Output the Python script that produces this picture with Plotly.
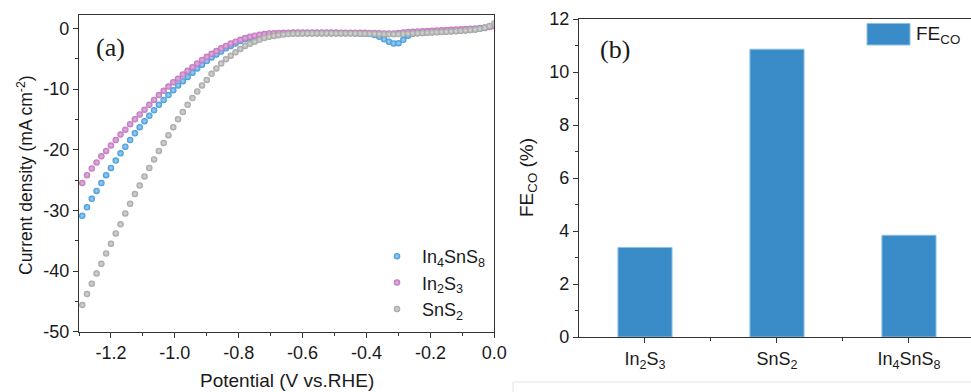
import plotly.graph_objects as go

# ---------------- data: panel (a) LSV ----------------
potential = [-1.29, -1.275, -1.26, -1.245, -1.23, -1.215, -1.2, -1.185, -1.17, -1.155,
             -1.14, -1.125, -1.11, -1.095, -1.08, -1.065, -1.05, -1.035, -1.02, -1.005,
             -0.99, -0.975, -0.96, -0.945, -0.93, -0.915, -0.9, -0.885, -0.87, -0.855,
             -0.84, -0.825, -0.81, -0.795, -0.78, -0.765, -0.75, -0.735, -0.72, -0.705,
             -0.69, -0.675, -0.66, -0.645, -0.63, -0.615, -0.6, -0.585, -0.57, -0.555,
             -0.54, -0.525, -0.51, -0.495, -0.48, -0.465, -0.45, -0.435, -0.42, -0.405,
             -0.39, -0.375, -0.36, -0.345, -0.33, -0.315, -0.3, -0.285, -0.27, -0.255,
             -0.24, -0.225, -0.21, -0.195, -0.18, -0.165, -0.15, -0.135, -0.12, -0.105,
             -0.09, -0.075, -0.06, -0.045, -0.03, -0.015, 0.0]

j_in4sns8 = [-30.9, -29.5, -28.1, -26.8, -25.5, -24.2, -23.0, -21.8, -20.6, -19.5,
             -18.4, -17.3, -16.3, -15.3, -14.4, -13.5, -12.6, -11.8, -11.0, -10.2,
             -9.4, -8.7, -8.0, -7.3, -6.6, -6.0, -5.4, -4.8, -4.3, -3.8,
             -3.3, -2.9, -2.5, -2.1, -1.8, -1.55, -1.35, -1.2, -1.05, -0.95,
             -0.9, -0.86, -0.84, -0.82, -0.81, -0.8, -0.8, -0.8, -0.8, -0.8,
             -0.8, -0.8, -0.8, -0.8, -0.8, -0.81, -0.82, -0.83, -0.85, -0.88,
             -0.95, -1.1, -1.4, -1.8, -2.2, -2.5, -2.45, -1.9, -1.2, -0.9,
             -0.8, -0.75, -0.7, -0.66, -0.62, -0.58, -0.54, -0.49, -0.44, -0.39,
             -0.33, -0.26, -0.18, -0.08, 0.06, 0.25, 0.5]

j_in2s3 = [-25.5, -24.2, -23.1, -22.1, -21.1, -20.2, -19.3, -18.4, -17.5, -16.7,
           -15.8, -15.0, -14.2, -13.4, -12.6, -11.8, -11.0, -10.3, -9.6, -8.9,
           -8.3, -7.6, -7.0, -6.4, -5.8, -5.2, -4.7, -4.2, -3.75, -3.3,
           -2.9, -2.5, -2.2, -1.9, -1.6, -1.4, -1.2, -1.05, -0.95, -0.85,
           -0.8, -0.76, -0.73, -0.71, -0.7, -0.7, -0.69, -0.69, -0.69, -0.69,
           -0.69, -0.7, -0.7, -0.7, -0.71, -0.71, -0.72, -0.72, -0.73, -0.74,
           -0.76, -0.78, -0.8, -0.83, -0.85, -0.84, -0.78, -0.68, -0.6, -0.55,
           -0.5, -0.46, -0.42, -0.38, -0.35, -0.31, -0.28, -0.24, -0.2, -0.16,
           -0.12, -0.07, -0.02, 0.04, 0.12, 0.22, 0.35]

j_sns2 = [-45.6, -43.8, -42.1, -40.4, -38.8, -37.1, -35.5, -33.8, -32.3, -30.5,
          -28.9, -27.3, -25.9, -24.4, -23.0, -21.6, -20.2, -18.9, -17.6, -16.3,
          -15.0, -13.8, -12.6, -11.5, -10.4, -9.4, -8.5, -7.5, -6.6, -5.8,
          -5.1, -4.5, -3.95, -3.4, -2.9, -2.55, -2.2, -1.9, -1.6, -1.4,
          -1.25, -1.12, -1.02, -0.95, -0.9, -0.87, -0.85, -0.84, -0.83, -0.83,
          -0.83, -0.83, -0.83, -0.84, -0.84, -0.85, -0.85, -0.86, -0.87, -0.88,
          -0.9, -0.92, -0.94, -0.96, -0.97, -0.97, -0.95, -0.92, -0.88, -0.84,
          -0.8, -0.76, -0.72, -0.68, -0.64, -0.6, -0.56, -0.51, -0.46, -0.41,
          -0.35, -0.28, -0.2, -0.08, 0.1, 0.38, 0.8]

series_names = ["In<sub>4</sub>SnS<sub>8</sub>", "In<sub>2</sub>S<sub>3</sub>", "SnS<sub>2</sub>"]

x_tickvals = [-1.2, -1.0, -0.8, -0.6, -0.4, -0.2, 0.0]
x_ticktext = ["-1.2", "-1.0", "-0.8", "-0.6", "-0.4", "-0.2", "0.0"]
y_tickvals = [0, -10, -20, -30, -40, -50]
y_ticktext = ["0", "-10", "-20", "-30", "-40", "-50"]

# ---------------- data: panel (b) FE_CO ----------------
catalysts = ["In<sub>2</sub>S<sub>3</sub>", "SnS<sub>2</sub>", "In<sub>4</sub>SnS<sub>8</sub>"]
fe_co = [3.38, 10.86, 3.84]

# ---------------- styling ----------------
FONT = "Liberation Sans, Arial, sans-serif"
SERIF = "Liberation Serif, Times New Roman, serif"
AX = "#333333"
TXT = "#1a1a1a"
W, H = 971, 392

colors = ["#3f98dc", "#c173be", "#a3a3a3"]
highlights = ["#a9d3f2", "#e2b8de", "#dadada"]
bar_color = "#3a8cc8"

fig = go.Figure()

for name, ys, c, hl in zip(series_names, [j_in4sns8, j_in2s3, j_sns2], colors, highlights):
    fig.add_trace(go.Scatter(
        x=potential, y=ys, mode="markers", name=name,
        marker=dict(size=6.5, color=c, line=dict(width=0),
                    gradient=dict(type="radial", color=hl)),
        xaxis="x", yaxis="y",
    ))

fig.add_trace(go.Bar(
    x=[0, 1, 2], y=fe_co, width=0.41, name="FE<sub>CO</sub>",
    marker=dict(color=bar_color, line=dict(color="#8cc2e8", width=1)),
    xaxis="x2", yaxis="y2", showlegend=False,
))

def px_x(p):
    return p / W

def px_y(p):
    return (H - p) / H

tickfont = dict(family=FONT, size=18, color=TXT)

common = dict(showline=True, linecolor=AX, linewidth=1.3,
              ticks="outside", ticklen=5, tickwidth=1.2, tickcolor=AX,
              tickfont=tickfont, showgrid=False, zeroline=False, automargin=False)

fig.update_layout(
    width=W, height=H,
    margin=dict(l=0, r=0, t=0, b=0, autoexpand=False),
    paper_bgcolor="white", plot_bgcolor="white",
    font=dict(family=FONT, color=TXT),
    xaxis=dict(
        domain=[px_x(79), px_x(494.3)], range=[-1.3, 0.0], anchor="y", mirror=True,
        tickvals=x_tickvals, ticktext=x_ticktext,
        minor=dict(dtick=0.1, tick0=0, ticks="outside", ticklen=3, tickwidth=1, tickcolor=AX),
        **common,
    ),
    yaxis=dict(
        domain=[px_y(331.7), px_y(15)], range=[-50, 2.2], anchor="x", mirror=True,
        tickvals=y_tickvals, ticktext=y_ticktext,
        minor=dict(dtick=5, tick0=0, ticks="outside", ticklen=3, tickwidth=1, tickcolor=AX),
        **common,
    ),
    xaxis2=dict(
        domain=[px_x(579), 1.0], range=[-0.5, 2.47], anchor="y2", mirror=True,
        tickvals=[0, 1, 2], ticktext=catalysts,
        minor=dict(tickvals=[0.5, 1.5], ticks="outside", ticklen=3, tickwidth=1, tickcolor=AX),
        **common,
    ),
    yaxis2=dict(
        domain=[px_y(337), px_y(19)], range=[0, 12], anchor="x2", mirror=False,
        dtick=2,
        minor=dict(dtick=1, ticks="outside", ticklen=3, tickwidth=1, tickcolor=AX),
        **common,
    ),
    showlegend=True,
    legend=dict(
        x=px_x(372), y=px_y(238), xanchor="left", yanchor="top",
        bgcolor="rgba(0,0,0,0)", borderwidth=0,
        font=dict(family=FONT, size=18, color=TXT),
        itemsizing="trace", itemwidth=40, tracegroupgap=0,
    ),
)

annotations = [
    dict(text="Potential (V vs.RHE)", x=px_x(287), y=px_y(380), xref="paper", yref="paper",
         showarrow=False, xanchor="center", yanchor="middle",
         font=dict(family=FONT, size=19, color=TXT)),
    dict(text="Current density (mA cm<sup>-2</sup>)", x=px_x(25), y=px_y(175), xref="paper", yref="paper",
         showarrow=False, textangle=-90, xanchor="center", yanchor="middle",
         font=dict(family=FONT, size=17.5, color=TXT)),
    dict(text="FE<sub>CO</sub> (%)", x=px_x(528), y=px_y(178), xref="paper", yref="paper",
         showarrow=False, textangle=-90, xanchor="center", yanchor="middle",
         font=dict(family=FONT, size=19, color=TXT)),
    dict(text="(a)", x=px_x(110), y=px_y(47), xref="paper", yref="paper",
         showarrow=False, xanchor="center", yanchor="middle",
         font=dict(family=SERIF, size=26, color=TXT)),
    dict(text="(b)", x=px_x(615), y=px_y(49), xref="paper", yref="paper",
         showarrow=False, xanchor="center", yanchor="middle",
         font=dict(family=SERIF, size=26, color=TXT)),
    dict(text="FE<sub>CO</sub>", x=px_x(914), y=px_y(35), xref="paper", yref="paper",
         showarrow=False, xanchor="left", yanchor="middle",
         font=dict(family=FONT, size=19, color=TXT)),
]
fig.update_layout(annotations=annotations)

shapes = [
    # legend swatch for bar series
    dict(type="rect", xref="paper", yref="paper", x0=px_x(867), x1=px_x(910),
         y0=px_y(45), y1=px_y(23.5), fillcolor=bar_color, line=dict(color="#8cc2e8", width=1)),
    # faint page border at bottom right
    dict(type="line", xref="paper", yref="paper", x0=px_x(513), x1=1.0,
         y0=px_y(382), y1=px_y(382), line=dict(color="#e4e4e4", width=1)),
    dict(type="line", xref="paper", yref="paper", x0=px_x(513), x1=px_x(513),
         y0=px_y(382), y1=0.0, line=dict(color="#e4e4e4", width=1)),
]
fig.update_layout(shapes=shapes)

fig.write_html("out.html")
